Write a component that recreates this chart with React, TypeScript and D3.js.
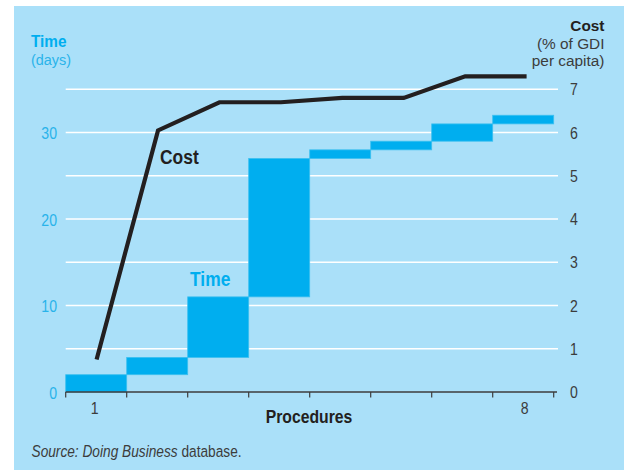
import React from "react";
import * as d3 from "d3";

const procedures = [1, 2, 3, 4, 5, 6, 7, 8];
const timeStart = [0, 2, 4, 11, 27, 28, 29, 31];
const timeEnd = [2, 4, 11, 27, 28, 29, 31, 32];
const costValues = [0.75, 6.05, 6.7, 6.7, 6.8, 6.8, 7.3, 7.3];
const leftTicks = [0, 10, 20, 30];
const rightTicks = [0, 1, 2, 3, 4, 5, 6, 7];
const xTickLabels = ["1", "", "", "", "", "", "", "8"];

const W = 624;
const H = 470;
const BG = "#aae0f9";
const BLUE = "#00aeef";
const DARK = "#231f20";
const GREY = "#3c3c3c";
const FONT = "'Liberation Sans', Arial, sans-serif";

type TProps = {
  x: number;
  y: number;
  size: number;
  sx?: number;
  anchor?: "start" | "middle" | "end";
  bold?: boolean;
  fill: string;
  children: React.ReactNode;
};

function T({ x, y, size, sx = 0.83, anchor = "start", bold = false, fill, children }: TProps) {
  return (
    <text
      transform={`translate(${x},${y}) scale(${sx},1)`}
      x={0}
      y={0}
      textAnchor={anchor}
      fontSize={size}
      fontWeight={bold ? "bold" : "normal"}
      fill={fill}
    >
      {children}
    </text>
  );
}

export default function App() {
  const x = d3.scaleBand<number>().domain(procedures).range([65.7, 553.7]).padding(0);
  const xp = d3.scalePoint<number>().domain(procedures).range([96.6, 526.6]);
  const yT = d3.scaleLinear().domain([0, 35]).range([392, 89.3]);
  const yC = d3.scaleLinear().domain([0, 7]).range([392, 89.3]);
  const line = d3
    .line<number>()
    .x((_, i) => xp(procedures[i]) as number)
    .y((d) => yC(d));
  const boundaries = d3.range(procedures.length + 1).map((i) => 65.7 + i * x.bandwidth());

  return (
    <svg width={W} height={H} style={{ position: "absolute", left: 0, top: 0 }} fontFamily={FONT}>
      <rect x={0} y={0} width={W} height={H} fill="#fff" />
      <rect x={14} y={6} width={W - 14} height={H - 6} fill={BG} />
      {/* gridlines */}
      {rightTicks.slice(1).map((t) => (
        <line key={t} x1={65.7} x2={558} y1={yC(t)} y2={yC(t)} stroke="#fff" strokeWidth={1.6} />
      ))}
      {/* bars */}
      {procedures.map((p, i) => (
        <rect
          key={p}
          x={x(p)}
          width={x.bandwidth()}
          y={yT(timeEnd[i])}
          height={yT(timeStart[i]) - yT(timeEnd[i])}
          fill={BLUE}
          stroke="#3cc0f0"
          strokeWidth={0.8}
        />
      ))}
      {/* x axis */}
      <line x1={65.7} x2={557} y1={392} y2={392} stroke={GREY} strokeWidth={1.5} />
      {boundaries.map((b, i) => (
        <line key={i} x1={b} x2={b} y1={392} y2={397.5} stroke={GREY} strokeWidth={1.2} />
      ))}
      {procedures.map((p, i) =>
        xTickLabels[i] ? (
          <T key={p} x={(xp(p) as number) - 2} y={414} size={17} anchor="middle" fill={GREY}>
            {xTickLabels[i]}
          </T>
        ) : null
      )}
      <T x={309} y={423} size={19} anchor="middle" bold fill={DARK}>
        Procedures
      </T>
      {/* left ticks */}
      {leftTicks.map((t) => (
        <T key={t} x={57} y={yT(t) + 6.5} size={17} anchor="end" fill="#29b3ea">
          {t}
        </T>
      ))}
      {/* right ticks */}
      {rightTicks.map((t) => (
        <T key={t} x={570} y={yC(t) + 6} size={17} fill={GREY}>
          {t}
        </T>
      ))}
      {/* cost line */}
      <path d={line(costValues) as string} fill="none" stroke={DARK} strokeWidth={4.2} strokeLinejoin="miter" />
      {/* in-plot labels */}
      <T x={160} y={163.5} size={21} bold fill={DARK}>Cost</T>
      <T x={190} y={286} size={21} bold fill={BLUE}>Time</T>
      {/* headers */}
      <T x={31} y={47} size={16.5} sx={0.93} bold fill={BLUE}>Time</T>
      <T x={31} y={65} size={15.5} sx={0.93} fill="#29b3ea">(days)</T>
      <T x={604.5} y={31} size={15.4} sx={1} anchor="end" bold fill={DARK}>Cost</T>
      <T x={604.5} y={49} size={15.4} sx={1} anchor="end" fill={GREY}>(% of GDI</T>
      <T x={604.5} y={66} size={15.4} sx={1} anchor="end" fill={GREY}>per capita)</T>
      {/* source */}
      <text transform={`translate(31.5,457) scale(0.83,1)`} fontSize={16.5} fill={GREY}>
        <tspan fontStyle="italic">Source: Doing Business</tspan>
        <tspan> database.</tspan>
      </text>
    </svg>
  );
}
